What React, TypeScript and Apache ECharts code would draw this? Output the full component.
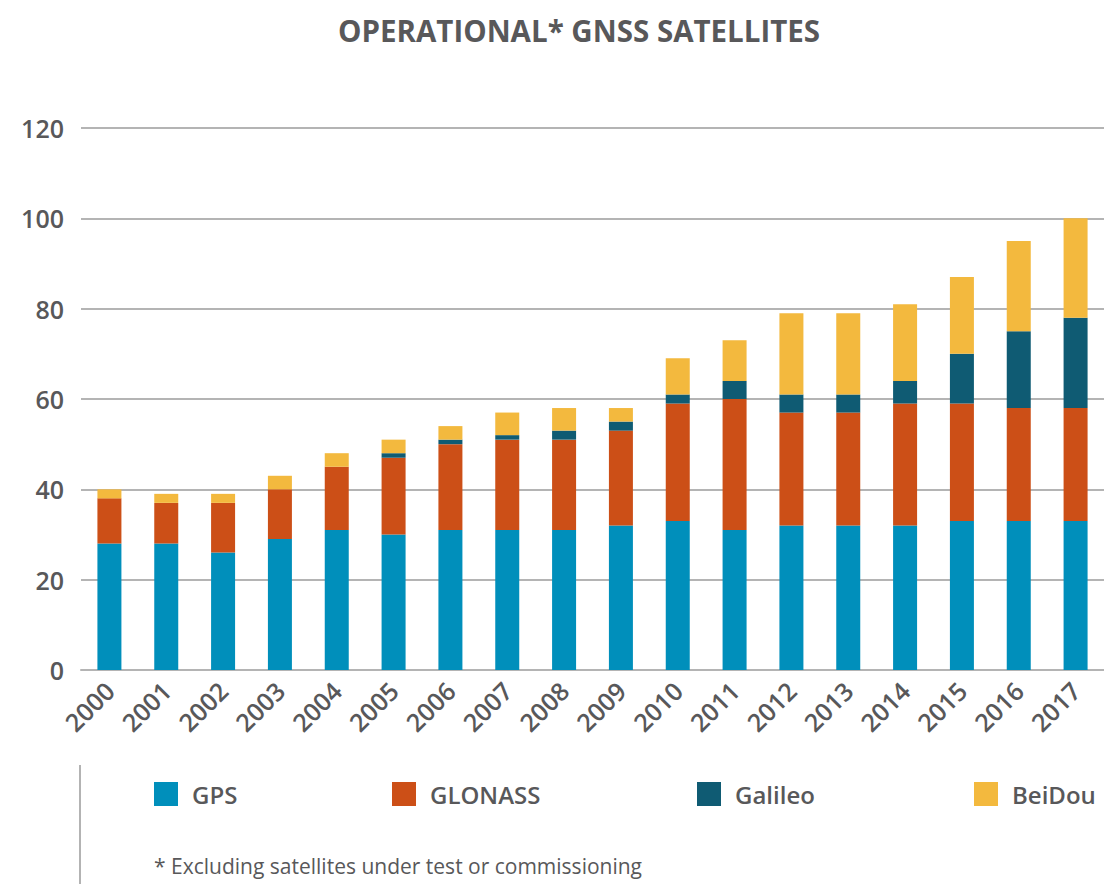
import React, { useEffect, useRef } from "react";
import * as echarts from "echarts";

const years = ["2000","2001","2002","2003","2004","2005","2006","2007","2008","2009","2010","2011","2012","2013","2014","2015","2016","2017"];
const gps = [28,28,26,29,31,30,31,31,31,32,33,31,32,32,32,33,33,33];
const glonass = [10,9,11,11,14,17,19,20,20,21,26,29,25,25,27,26,25,25];
const galileo = [0,0,0,0,0,1,1,1,2,2,2,4,4,4,5,11,17,20];
const beidou = [2,2,2,3,3,3,3,5,5,3,8,9,18,18,17,17,20,22];
const seriesNames = ["GPS","GLONASS","Galileo","BeiDou"];
const seriesColors = ["#008FBB","#CC4F17","#0F5B73","#F3B93E"];
const legendLeft = [154,392,697,974];

const TEXT = "#58585A";
const FONT = "'Open Sans', 'Noto Sans', sans-serif";

export default function App() {
  const ref = useRef<HTMLDivElement>(null);
  useEffect(() => {
    if (!ref.current) return;
    const chart = echarts.init(ref.current, null, { renderer: "svg" });
    const data = [gps, glonass, galileo, beidou];
    chart.setOption({
      animation: false,
      backgroundColor: "#ffffff",
      title: {
        text: "OPERATIONAL* GNSS SATELLITES",
        left: 574,
        textAlign: "center",
        top: 10,
        textStyle: { fontFamily: FONT, fontSize: 29.5, fontWeight: 700, color: TEXT },
      },
      legend: seriesNames.map((n, i) => ({
        data: [n],
        left: legendLeft[i],
        top: 782,
        padding: 0,
        itemWidth: 24,
        itemHeight: 24,
        icon: "rect",
        selectedMode: false,
        textStyle: { fontFamily: FONT, fontSize: 24, fontWeight: 600, color: TEXT, padding: [0, 0, 0, 9] },
      })),
      grid: { left: 81, right: 0, top: 128, bottom: 214, containLabel: false },
      xAxis: {
        type: "category",
        data: years,
        axisTick: { show: false },
        axisLine: { lineStyle: { color: "#b4b4b4", width: 2 } },
        axisLabel: {
          rotate: 45,
          margin: 16,
          fontFamily: FONT,
          fontSize: 25,
          fontWeight: 600,
          color: TEXT,
          interval: 0,
        },
      },
      yAxis: {
        type: "value",
        min: 0,
        max: 120,
        interval: 20,
        axisLine: { show: false },
        axisTick: { show: false },
        splitLine: { lineStyle: { color: "#b4b4b4", width: 2 } },
        axisLabel: { margin: 17, fontFamily: FONT, fontSize: 25, fontWeight: 600, color: TEXT },
      },
      series: seriesNames.map((n, i) => ({
        name: n,
        type: "bar",
        stack: "total",
        barWidth: 24,
        data: data[i],
        itemStyle: { color: seriesColors[i] },
      })),
      graphic: [
        { type: "line", shape: { x1: 80, y1: 765, x2: 80, y2: 884 }, style: { stroke: "#9a9a9a", lineWidth: 1.5 } },
        {
          type: "text",
          left: 154,
          top: 855,
          style: { text: "* Excluding satellites under test or commissioning", fontFamily: FONT, fontSize: 21, fill: TEXT },
        },
      ],
    });
    return () => chart.dispose();
  }, []);
  return <div ref={ref} style={{ position: "absolute", left: 0, top: 0, width: 1104, height: 884 }} />;
}
